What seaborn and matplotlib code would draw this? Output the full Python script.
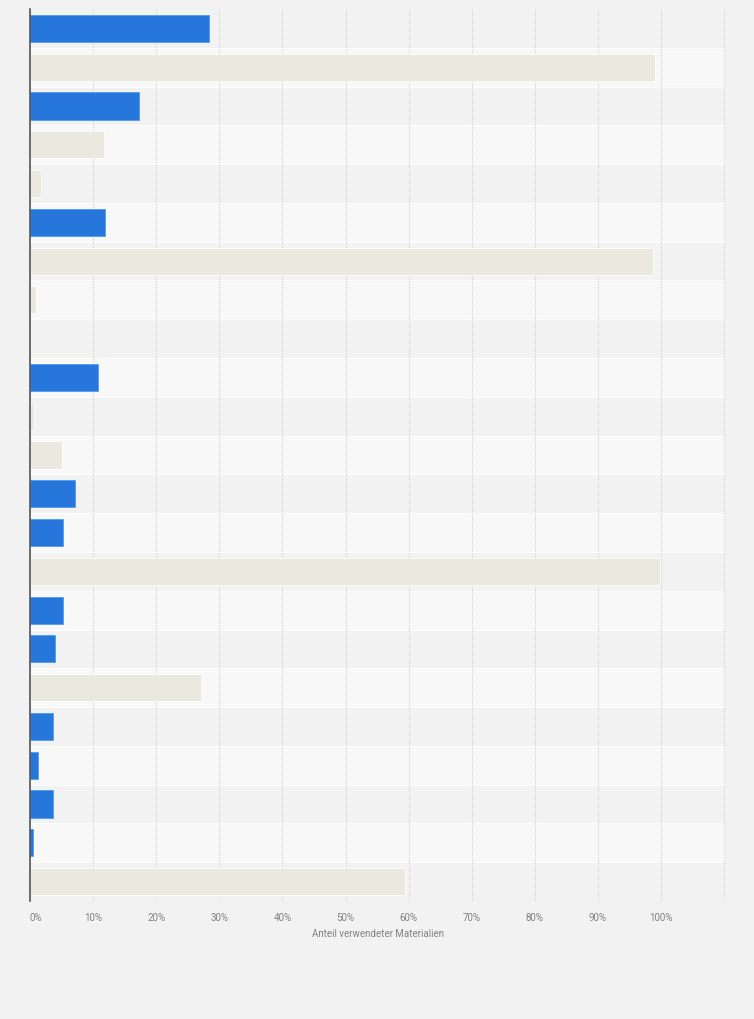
import matplotlib
matplotlib.use("Agg")
import matplotlib.pyplot as plt
import seaborn as sns
import pandas as pd
import numpy as np

categories = [f"Material {i+1}" for i in range(23)]
values = [28.4, 99.1, 17.2, 11.8, 1.7, 11.9, 98.8, 0.9, 0.0, 10.7, 0.6, 5.1,
          7.2, 5.3, 99.8, 5.3, 3.9, 27.1, 3.6, 1.3, 3.7, 0.4, 59.4]
groups = ["A", "B", "A", "B", "B", "A", "B", "B", "B", "A", "B", "B",
          "A", "A", "B", "A", "A", "B", "A", "A", "A", "A", "B"]
xticks = list(range(0, 101, 10))
xticklabels = [f"{t}%" for t in xticks]
xlabel = "Anteil verwendeter Materialien"

df = pd.DataFrame({"cat": categories, "val": values, "grp": groups})

sns.set_theme(style="white")
plt.rcParams['font.family'] = ['Roboto', 'DejaVu Sans']

fig = plt.figure(figsize=(7.54, 10.2), dpi=100)
fig.patch.set_facecolor("#f2f2f2")
ax = fig.add_axes([30/754, 1-902/1020, (726-30)/754, (902-10)/1020])
ax.set_facecolor("#f2f2f2")

for i in range(len(categories)):
    if i % 2 == 1:
        ax.axhspan(i-0.5, i+0.5, xmax=110/110.3, color="#f8f8f8", zorder=0, lw=0)

palette = {"A": "#2776db", "B": "#ebe9df"}
sns.barplot(data=df, y="cat", x="val", hue="grp", palette=palette, dodge=False,
            orient="h", width=0.7, ax=ax, legend=False, zorder=3,
            saturation=1)
for bar in ax.patches:
    fc = bar.get_facecolor()
    bar.set_edgecolor((min(fc[0]+0.15, 1), min(fc[1]+0.15, 1), min(fc[2]+0.1, 1), 1))
    bar.set_linewidth(0.6)

ax.set_xlim(0, 110.3)
ax.set_ylim(len(categories)-0.5, -0.5)
ax.set_xticks(xticks + [110])
ax.set_xticklabels(xticklabels + [""], fontsize=7, color="#808080")
ax.get_xticklabels()[0].set_horizontalalignment("left")
ax.set_yticks([])
ax.set_ylabel("")
ax.set_xlabel(xlabel, fontsize=7, color="#808080", labelpad=4)
ax.tick_params(axis="x", length=0, pad=8)
ax.xaxis.grid(True, linestyle=(0, (1.2, 1.2)), color="#d4d4d4", linewidth=0.8, zorder=1)
ax.set_axisbelow(True)
for s in ["top", "right", "bottom"]:
    ax.spines[s].set_visible(False)
ax.spines["left"].set_color("#555555")
ax.spines["left"].set_linewidth(1.2)
ax.spines["left"].set_zorder(5)

fig.savefig("out.png", dpi=100, facecolor=fig.get_facecolor())
